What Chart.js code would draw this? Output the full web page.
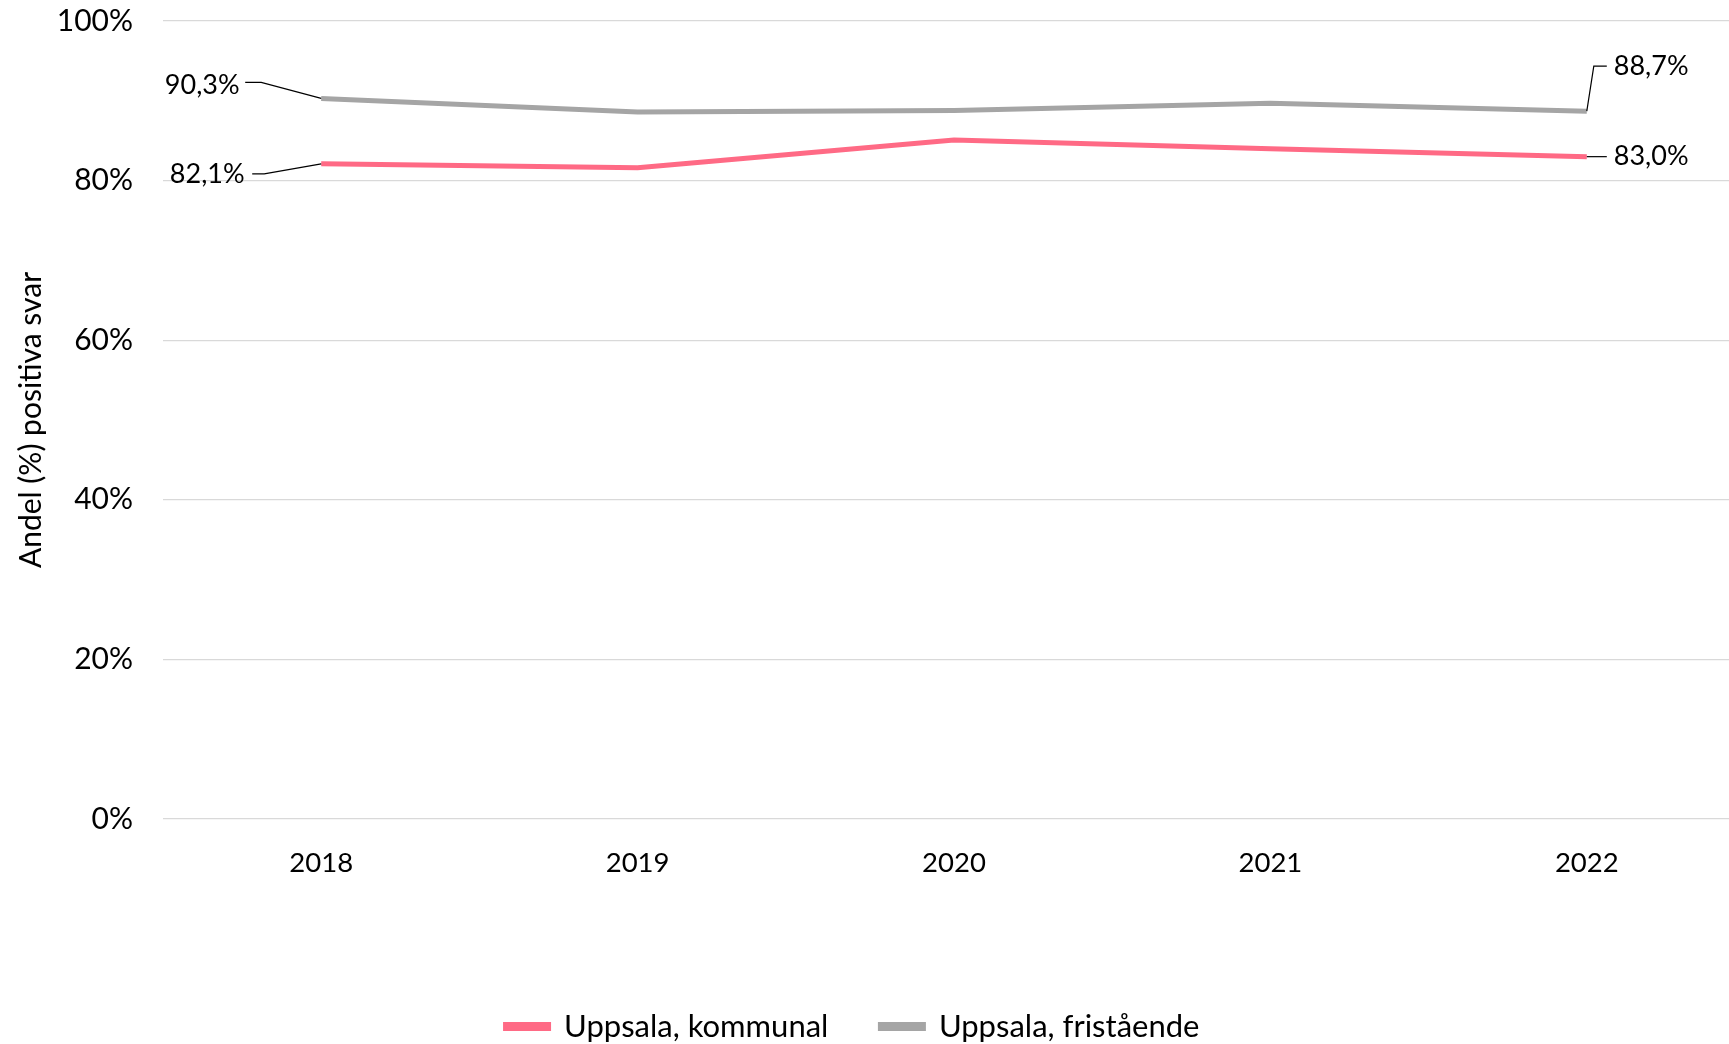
<!DOCTYPE html>
<html>
<head>
<meta charset="utf-8">
<script src="https://cdn.jsdelivr.net/npm/chart.js@4"></script>
<style>
    html, body { margin: 0; padding: 0; background: #fff; overflow: hidden; }
    #wrap { width: 1745px; height: 1044px; }
</style>
</head>
<body>
<div id="wrap"><canvas id="trendChart" width="1745" height="1044"></canvas></div>
<script>
// Data
const years = ['2018', '2019', '2020', '2021', '2022'];
const kommunal = [82.1, 81.6, 85.1, 84.0, 83.0];
const fristaende = [90.3, 88.6, 88.8, 89.7, 88.7];
const yTicks = [0, 20, 40, 60, 80, 100];

const FONT = "'Lato', sans-serif";
const fmt = (v) => v.toFixed(1).replace('.', ',') + '%';

// Callout labels with leader lines (first & last points)
// path: offsets relative to the point; label: offset + alignment
const callouts = {
    0: {
        first: { path: [[-57, 10], [-69, 10]], label: [-114, 10, 'center'] },
        last: { path: [[20, 0]], label: [27, 0, 'left'] }
    },
    1: {
        first: { path: [[-60, -16], [-76, -16]], label: [-119, -13, 'center'] },
        last: { path: [[7, -45], [20, -45]], label: [27, -45, 'left'] }
    }
};

const calloutPlugin = {
    id: 'callouts',
    afterDatasetsDraw(chart) {
        const ctx = chart.ctx;
        ctx.save();
        ctx.font = '27px ' + FONT;
        ctx.fillStyle = '#000';
        ctx.strokeStyle = '#000';
        ctx.lineWidth = 1.2;
        ctx.textBaseline = 'middle';
        chart.data.datasets.forEach((ds, i) => {
            const pts = chart.getDatasetMeta(i).data;
            const c = callouts[i];
            [['first', 0], ['last', pts.length - 1]].forEach(([key, idx]) => {
                const p = pts[idx];
                const cfg = c[key];
                ctx.beginPath();
                ctx.moveTo(p.x, p.y);
                cfg.path.forEach(([dx, dy]) => ctx.lineTo(p.x + dx, p.y + dy));
                ctx.stroke();
                ctx.textAlign = cfg.label[2];
                ctx.fillText(fmt(ds.data[idx]), p.x + cfg.label[0], p.y + cfg.label[1]);
            });
        });
        ctx.restore();
    }
};

// the legend in the reference sits a bit left of the canvas centre
const legendShift = {
    id: 'legendShift',
    afterLayout(chart) {
        if (chart.legend) {
            chart.legend.left -= 20;
            chart.legend.right -= 20;
        }
    }
};

new Chart(document.getElementById('trendChart'), {
    type: 'line',
    data: {
        labels: years,
        datasets: [
            {
                label: 'Uppsala, kommunal',
                data: kommunal,
                borderColor: '#ff6a85',
                backgroundColor: '#ff6a85',
                borderWidth: 5,
                pointRadius: 0,
                tension: 0
            },
            {
                label: 'Uppsala, fristående',
                data: fristaende,
                borderColor: '#a5a5a5',
                backgroundColor: '#a5a5a5',
                borderWidth: 5,
                pointRadius: 0,
                tension: 0
            }
        ]
    },
    options: {
        responsive: false,
        animation: false,
        layout: { autoPadding: false, padding: { top: 21, right: 0, bottom: -8, left: 0 } },
        plugins: {
            tooltip: { enabled: false },
            legend: {
                position: 'bottom',
                labels: {
                    color: '#000',
                    font: { family: FONT, size: 31 },
                    boxWidth: 43,
                    boxHeight: 4,
                    padding: 52
                }
            }
        },
        scales: {
            x: {
                offset: true,
                grid: { display: false, drawTicks: false },
                border: { display: false },
                ticks: { color: '#000', padding: 28, font: { family: FONT, size: 27.5 } },
                afterFit: (scale) => { scale.height = 140; scale.paddingTop = 0; }
            },
            y: {
                min: 0,
                max: 100,
                afterBuildTicks: (scale) => { scale.ticks = yTicks.map(v => ({ value: v })); },
                grid: { color: '#d9d9d9', lineWidth: 1.2, drawTicks: false },
                border: { display: false },
                ticks: {
                    color: '#000',
                    padding: 30,
                    font: { family: FONT, size: 30 },
                    callback: (v) => v + '%'
                },
                title: {
                    display: true,
                    text: 'Andel (%) positiva svar',
                    color: '#000',
                    font: { family: FONT, size: 30 },
                    padding: { top: 13, bottom: 0 }
                },
                afterFit: (scale) => { scale.width = 163; scale.paddingTop = 0; }
            }
        }
    },
    plugins: [calloutPlugin, legendShift]
});
</script>
</body>
</html>
